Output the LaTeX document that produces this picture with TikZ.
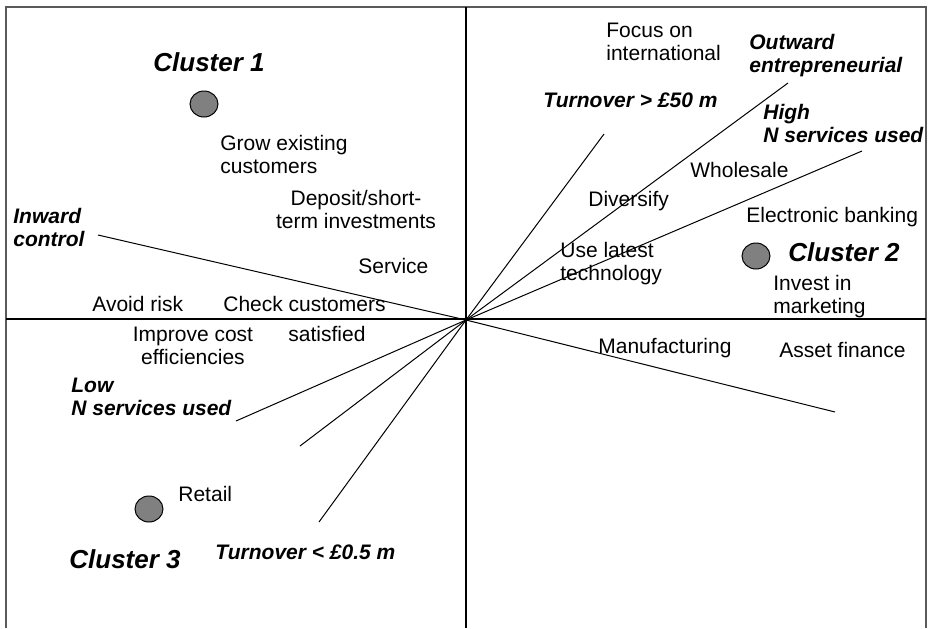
\documentclass[tikz,border=0pt]{standalone}
\usepackage{fontspec}
\setmainfont{Liberation Sans}
\usepackage{tikz}
\usetikzlibrary{shapes}
\definecolor{cluster-grey}{RGB}{128,128,128}
\definecolor{frame-grey}{RGB}{90,90,90}
\tikzstyle{label}=[inner sep=0pt, font=\fontsize{10.5}{11.5}\selectfont]
\tikzstyle{dimension}=[label, font=\fontsize{10.5}{11.5}\selectfont\bfseries\itshape]
\tikzstyle{clustername}=[inner sep=0pt, font=\fontsize{13}{15}\selectfont\bfseries\itshape]
\tikzstyle{clusterdot}=[ellipse, draw, fill=cluster-grey, line width=.5pt, minimum width=14pt, minimum height=13pt, inner sep=0pt]
\tikzstyle{ray}=[line width=.5pt]
\tikzstyle{axis}=[line width=.6pt]
\tikzstyle{plotframe}=[line width=1pt, frame-grey]

\begin{document}
\begin{tikzpicture}[x=.5pt, y=-.5pt]
	\useasboundingbox (0,0) rectangle (928,628);
	\draw[plotframe] (6,628) -- (6,7) -- (926,7) -- (926,628);
	\draw[axis] (466,7) -- (466,628);
	\draw[axis] (6,319) -- (926,319);
	\coordinate (centre) at (466,320);
	% ends of the dimension lines
	\coordinate (inward) at (98,235);
	\coordinate (outward) at (835,412);
	\coordinate (bigturnover) at (604,134);
	\coordinate (entre) at (788,83);
	\coordinate (highN) at (862,151);
	\coordinate (lowN) at (236,421);
	\coordinate (mid) at (300,446);
	\coordinate (smallturnover) at (319,522);
	\foreach \e in {inward,outward,bigturnover,entre,highN,lowN,mid,smallturnover}
		\draw[ray] (centre) -- (\e);
	% clusters
	\node[clusterdot] (dot1) at (204,104) {};
	\node[clusterdot] (dot2) at (756,256) {};
	\node[clusterdot] (dot3) at (149,509) {};
	\node[clustername, anchor=base west] (cluster1) at (153,71) {Cluster 1};
	\node[clustername, anchor=base west] (cluster2) at (788,261) {Cluster 2};
	\node[clustername, anchor=base west] (cluster3) at (69,568) {Cluster 3};
	% dimension labels (base = last line)
	\node[dimension, anchor=base west, align=left] (inwardlab) at (13,246) {Inward\\control};
	\node[dimension, anchor=base west, align=left] (outwardlab) at (749,72) {Outward\\entrepreneurial};
	\node[dimension, anchor=base west] (bigturnlab) at (543,107) {Turnover > £50 m};
	\node[dimension, anchor=base west, align=left] (highlab) at (763,142) {High\\N services used};
	\node[dimension, anchor=base west, align=left] (lowlab) at (71,415) {Low\\N services used};
	\node[dimension, anchor=base west] (smallturnlab) at (215,559) {Turnover < £0.5 m};
	% variables
	\node[label, anchor=base west, align=left] (grow) at (220,173) {Grow existing\\customers};
	\node[label, anchor=base, align=center] (deposit) at (356,228) {Deposit/short-\\term investments};
	\node[label, anchor=base west] (service) at (358,273) {Service};
	\node[label, anchor=base west] (avoid) at (92,311) {Avoid risk};
	\node[label, anchor=base west] (check) at (223,311) {Check customers};
	\node[label, anchor=base west] (satisfied) at (288,341) {satisfied};
	\node[label, anchor=base, align=center] (cost) at (193,364) {Improve cost\\efficiencies};
	\node[label, anchor=base west] (retail) at (178,501) {Retail};
	\node[label, anchor=base west, align=left] (focus) at (606,60) {Focus on\\international};
	\node[label, anchor=base west] (wholesale) at (690,177) {Wholesale};
	\node[label, anchor=base west] (diversify) at (588,206) {Diversify};
	\node[label, anchor=base west] (ebank) at (746,222) {Electronic banking};
	\node[label, anchor=base west, align=left] (tech) at (560,280) {Use latest\\technology};
	\node[label, anchor=base west, align=left] (marketing) at (773,313) {Invest in\\marketing};
	\node[label, anchor=base west] (manufacturing) at (598,353) {Manufacturing};
	\node[label, anchor=base west] (asset) at (779,357) {Asset finance};
\end{tikzpicture}
\end{document}
